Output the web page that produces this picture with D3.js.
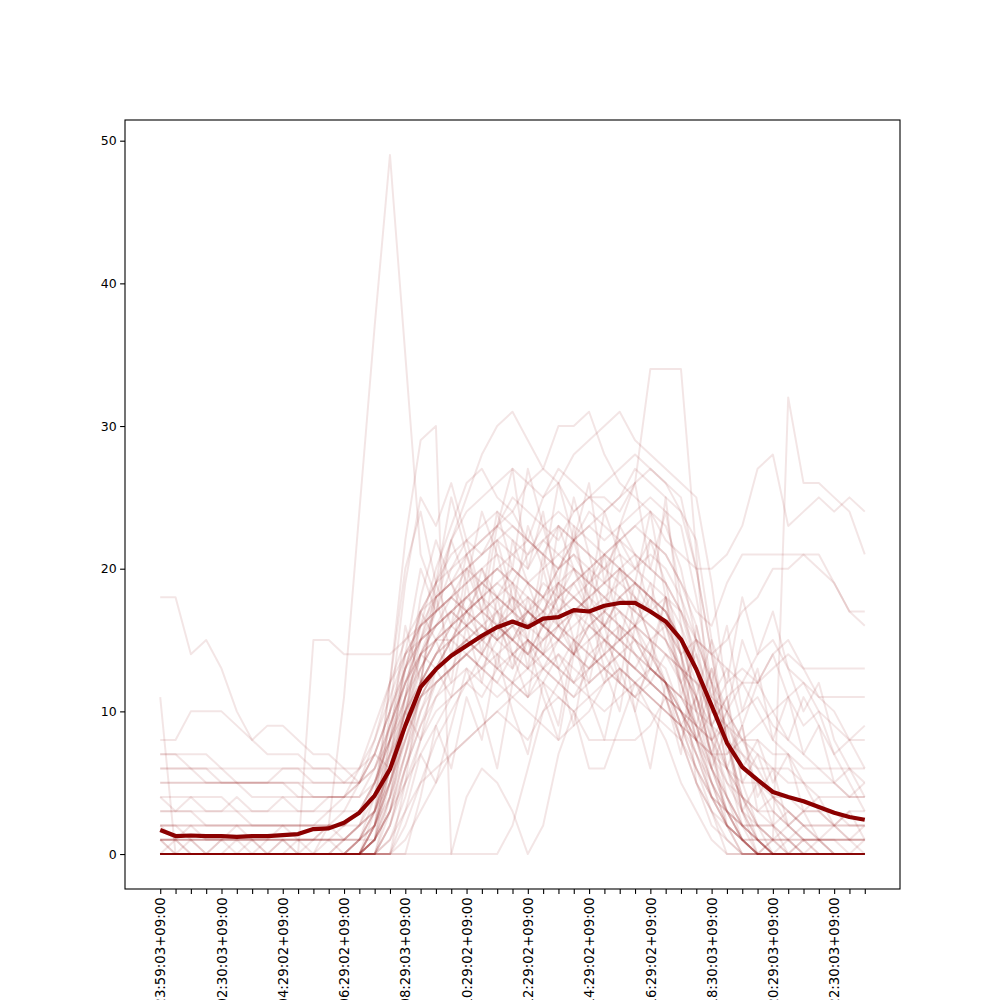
<!DOCTYPE html>
<html><head><meta charset="utf-8">
<script src="https://cdn.jsdelivr.net/npm/d3@7"></script>
<style>body{margin:0;background:#fff}svg{display:block}</style>
</head><body>
<div id="chart"></div>
<script>
// tick labels (every 4th category)
const tickIndex = [0,4,8,12,16,20,24,28,32,36,40,44];
const tickLabels = [
  "2021-03-15 23:59:03+09:00","2021-03-16 02:30:03+09:00","2021-03-16 04:29:02+09:00",
  "2021-03-16 06:29:02+09:00","2021-03-16 08:29:03+09:00","2021-03-16 10:29:02+09:00",
  "2021-03-16 12:29:02+09:00","2021-03-16 14:29:02+09:00","2021-03-16 16:29:02+09:00",
  "2021-03-16 18:30:03+09:00","2021-03-16 20:29:03+09:00","2021-03-16 22:30:03+09:00"];
const nPoints = 47;
const yTicks = [0,10,20,30,40,50];

// mean series
const meanValues = [1.68,1.26,1.3,1.26,1.26,1.2,1.25,1.26,1.33,1.4, 1.75,1.8,2.2,2.9,4.1,5.95,9.0,11.7,12.95,13.9, 14.6,15.3,15.9,16.3,15.9,16.5,16.6,17.1,17.0,17.4, 17.6,17.6,17.0,16.3,15.05,12.95,10.4,7.8,6.1,5.2, 4.35,4.0,3.7,3.3,2.9,2.6,2.4];

// individual series
const s01=[18,18,14,15,13,10,8,9,9,8, 7,7,6,6,7,10,14,16,17,18, 19,20,18,17,19,20,21,22,21,20, 19,18,17,16,12,8,4,2,1,0, 0,0,0,0,0,0,0];
const s02=[0,0,0,0,0,0,0,0,0,0, 0,2,11,24,37,49,35,21,18,19, 17,15,16,14,13,15,16,14,13,15, 16,14,12,11,8,5,2,1,0,0, 0,0,0,0,0,0,0];
const s03=[1,0,0,0,0,0,1,0,0,0, 0,0,0,0,1,4,9,14,17,20, 22,21,23,24,22,25,26,24,25,25, 24,26,34,34,34,21,8,2,1,0, 0,0,0,0,0,0,0];
const s04=[0,0,0,0,0,0,0,0,0,0, 0,0,0,0,0,2,6,10,12,13, 15,14,16,15,17,16,15,17,18,16, 17,15,13,12,9,6,3,1,0,0, 1,32,26,26,25,24,21];
const s05=[2,2,1,1,1,1,1,1,1,1, 1,2,3,5,8,12,15,17,18,19, 20,21,22,21,20,22,23,22,24,23, 22,23,24,22,21,20,20,21,23,27, 28,23,24,25,24,25,24];
const s06=[3,3,3,3,3,3,2,2,2,2, 2,3,4,6,9,12,14,16,17,18, 17,19,18,20,19,18,20,21,19,20, 21,20,22,21,19,17,16,19,21,21, 21,21,21,20,19,17,16];
const s07=[0,0,0,0,0,0,0,0,0,0, 1,1,2,3,5,8,11,13,15,16, 17,18,19,18,17,19,18,20,19,18, 17,16,17,18,17,15,14,15,17,18, 20,20,21,21,19,17,17];
const s08=[5,5,5,5,5,5,5,5,5,4, 4,4,4,5,7,10,13,15,16,17, 18,17,16,18,17,16,17,18,17,16, 15,16,15,16,14,15,14,13,12,12, 13,14,13,13,13,13,13];
const s09=[0,0,0,0,0,0,0,0,0,0, 0,0,0,1,3,7,11,14,16,17, 18,19,20,19,18,17,19,20,18,17, 16,15,14,13,10,8,10,12,13,12, 14,15,13,11,11,11,11];
const s10=[6,6,6,6,6,5,5,5,5,5, 5,5,5,6,8,11,14,15,16,17, 16,17,18,19,17,16,18,17,15,16, 15,16,14,12,10,9,8,10,12,14, 15,13,12,11,10,8,9];
const s11=[7,7,6,5,5,5,5,5,5,5, 4,4,4,4,6,9,12,14,15,16, 17,16,15,16,17,18,16,15,14,13, 14,13,12,11,10,8,7,7,8,9, 10,11,12,10,9,8,8];
const s12=[0,0,0,0,0,0,0,0,0,0, 0,0,0,0,2,5,9,13,15,16, 15,14,16,17,15,14,15,16,17,15, 14,13,12,14,13,12,10,9,8,8, 7,7,6,6,6,6,6];
const s13=[4,4,4,4,4,3,3,3,3,3, 3,3,3,3,5,8,12,15,17,18, 19,20,21,20,19,18,20,21,20,19, 18,17,16,15,13,11,9,8,7,6, 6,5,5,4,4,4,4];
const s14=[0,0,0,0,0,0,0,0,0,0, 0,0,1,2,4,9,13,16,18,19, 21,22,23,22,21,23,24,23,22,21, 20,19,18,17,14,10,7,5,4,3, 3,2,3,3,2,3,3];
const s15=[1,1,1,0,1,1,1,0,1,1, 1,1,1,2,3,6,10,13,15,15, 16,17,16,15,17,16,15,14,16,17, 16,15,14,12,9,6,4,3,2,2, 2,1,2,2,2,2,2];
const s16=[11,0,0,0,0,0,0,0,0,0, 0,0,0,1,3,5,8,11,13,14, 15,16,17,15,14,16,15,17,16,15, 14,13,12,11,8,5,3,2,1,1, 0,0,0,0,0,0,0];
const s17=[8,8,10,10,10,9,8,7,7,7, 6,6,6,5,7,10,13,15,16,18, 20,21,22,23,22,21,23,22,21,20, 22,21,20,19,17,13,9,6,4,2, 1,1,0,0,0,0,0];
const s18=[0,0,0,0,0,0,0,0,0,0, 15,15,14,14,14,14,15,16,17,18, 17,16,15,16,17,16,15,14,15,16, 15,14,13,12,10,7,4,2,1,0, 0,0,0,0,0,0,0];
const s19=[0,0,0,0,0,0,0,0,0,0, 0,0,0,1,4,12,22,29,30,0, 0,0,0,2,6,10,12,11,13,14, 12,11,13,12,10,8,5,3,1,0, 0,0,0,0,0,0,0];
const s20=[0,0,0,0,0,0,0,0,0,0, 0,0,0,0,1,3,7,12,18,22, 25,28,30,31,29,27,30,30,31,28, 26,25,24,23,20,15,9,4,1,0, 0,0,0,0,0,0,0];
const s21=[0,0,0,0,0,0,0,0,0,0, 0,0,0,0,2,6,11,16,20,23, 26,27,25,24,26,27,26,28,29,30, 31,29,28,27,26,25,19,11,5,2, 1,0,0,0,0,0,0];
const s22=[1,1,1,1,1,1,1,1,1,1, 1,1,1,1,2,4,8,12,14,16, 18,19,20,21,22,21,20,22,23,24, 25,26,27,26,24,20,14,8,4,1, 0,0,0,0,0,0,0];
const s23=[2,2,2,2,2,2,2,2,2,2, 2,2,2,3,4,7,10,12,13,15, 16,17,18,17,16,15,17,18,19,18, 17,16,18,17,15,12,8,5,3,2, 1,1,1,1,1,1,1];
const s24=[0,0,0,0,0,0,0,0,0,0, 0,0,0,0,0,2,5,8,10,11, 12,11,13,12,11,12,14,13,12,13, 14,15,13,12,11,9,6,3,1,0, 0,0,0,0,0,0,0];
const s25=[0,1,0,0,1,0,0,0,1,0, 0,0,1,2,5,9,12,14,13,15, 17,18,16,15,14,16,18,19,17,16, 18,19,17,16,14,10,6,3,1,0, 0,0,1,0,0,0,0];
const s26=[1,0,1,0,0,1,0,0,0,1, 0,1,0,1,3,6,9,11,12,13, 14,13,12,14,15,13,12,14,16,15, 14,13,15,14,12,8,5,2,0,0, 1,0,0,1,0,0,1];
const s27=[0,0,0,0,0,0,0,0,0,0, 0,0,0,0,1,3,5,7,9,11, 12,13,14,15,16,17,18,19,20,21, 22,23,22,21,19,16,12,8,4,2, 0,0,0,0,0,0,0];
const s28=[0,0,0,0,0,0,0,0,0,0, 0,0,0,0,0,0,1,3,5,7, 8,9,10,11,10,9,8,9,10,12, 13,12,11,10,9,8,6,4,2,1, 0,0,0,0,0,0,0];
const s29=[0,0,0,0,0,0,0,0,0,0, 0,0,0,0,0,0,0,0,0,0, 4,6,5,3,0,2,7,10,6,6, 9,12,10,8,5,3,1,0,0,0, 0,0,0,0,0,0,0];
const s30=[0,0,0,0,0,0,0,0,0,0, 0,0,0,0,0,1,3,5,6,7, 8,9,10,9,8,10,11,10,8,8, 8,8,9,11,10,7,4,2,0,0, 0,0,0,0,0,0,0];
const s31=[3,3,3,2,2,2,2,2,2,2, 2,2,2,3,5,8,11,14,15,17, 18,19,20,19,21,22,21,20,19,21, 22,20,19,18,16,13,9,6,3,1, 0,0,0,0,0,0,0];
const s32=[0,0,0,0,0,0,0,0,0,0, 0,0,0,0,3,8,13,17,19,20, 21,22,23,25,24,23,22,24,25,26, 27,28,27,26,25,20,14,8,3,1, 0,0,0,0,0,0,0];
const s33=[0,0,0,0,0,0,0,0,0,0, 0,0,0,0,1,5,10,14,16,17, 16,15,17,18,16,17,19,18,17,16, 18,19,18,17,15,11,7,4,2,1, 0,1,0,0,0,0,0];
const s34=[5,5,5,5,5,5,4,4,4,4, 4,4,4,4,5,7,9,11,13,14, 15,14,13,14,15,14,13,15,14,13, 12,11,12,11,10,9,8,9,10,11, 9,8,7,6,5,4,5];
const s35=[6,6,6,6,5,5,5,5,6,6, 6,6,5,5,6,8,10,12,14,15, 16,15,14,13,15,14,13,12,14,15, 13,12,11,10,9,8,7,6,5,5, 4,4,3,3,3,2,2];
const s36=[0,0,0,0,0,0,0,0,0,0, 0,0,0,0,2,6,10,15,19,22, 24,25,26,27,26,25,27,26,25,24, 25,27,26,25,24,22,15,8,3,0, 0,0,0,0,0,0,0];
const s37=[0,0,0,0,0,0,0,0,0,0, 0,0,0,0,0,1,4,8,11,13, 14,15,16,17,18,17,16,15,16,17, 18,17,16,15,13,12,11,10,8,6, 4,3,2,1,1,0,0];
const s38=[1,1,0,0,0,0,0,1,1,0, 0,0,0,0,1,4,7,10,13,15, 17,18,19,20,19,18,17,19,20,21, 20,19,18,16,13,9,5,2,1,0, 0,0,0,0,0,0,0];
const s39=[0,0,0,0,0,0,0,0,0,0, 0,0,0,1,2,5,9,12,14,16, 17,18,17,16,15,14,16,17,18,19, 20,21,20,19,17,14,11,9,7,5, 3,2,1,1,0,0,0];
const s40=[2,1,2,1,1,2,1,1,2,1, 1,2,1,2,3,6,9,12,14,15, 14,13,15,16,14,13,15,14,13,14, 15,14,13,12,11,9,6,4,2,1, 1,2,1,1,2,1,2];
const s41=[0,0,0,0,0,0,0,0,0,0, 0,0,0,0,0,0,2,5,8,10, 12,14,13,12,11,13,12,11,12,13, 12,11,10,9,8,6,4,3,2,2, 2,3,2,1,1,1,1];
const s42=[0,0,0,0,0,0,0,0,0,0, 0,0,0,0,2,7,13,17,19,21, 22,23,24,23,22,21,20,22,23,22, 23,24,25,24,23,18,12,6,2,0, 0,0,0,0,0,0,0];
const s43=[7,7,7,7,6,6,6,6,6,6, 5,5,5,5,6,9,12,15,18,19, 20,19,18,17,16,18,19,18,17,18, 19,20,21,20,18,15,12,10,8,7, 6,6,5,5,5,4,4];
const s44=[0,0,0,0,0,0,0,0,0,0, 0,0,0,0,1,3,7,11,13,14, 15,16,15,14,13,14,13,12,13,14, 15,16,15,14,13,11,8,6,4,3, 2,1,0,0,0,0,0];
const s45=[0,0,0,0,0,0,0,0,0,0, 0,0,0,0,0,2,6,9,12,13, 14,13,12,11,12,13,14,12,11,10, 11,12,13,12,11,10,9,11,12,10, 8,7,5,3,2,1,0];
const s46=[1,1,1,1,1,1,1,1,1,1, 1,1,1,1,2,5,8,11,12,13, 14,15,16,15,14,15,16,17,18,19, 20,19,18,17,15,11,7,3,1,1, 1,1,1,1,1,1,1];
const s47=[0,0,0,0,0,0,0,0,0,0, 0,0,0,0,1,3,6,9,11,12, 13,12,11,12,13,12,11,10,11,12, 13,12,11,10,9,7,5,3,2,1, 0,0,0,0,0,0,0];
const s48=[0,0,0,0,0,0,0,0,0,0, 0,0,0,0,0,3,9,17,15,12, 19,14,22,18,13,20,16,23,17,21, 15,19,24,18,12,14,9,11,6,8, 5,7,3,4,2,3,1];
const s49=[0,0,0,0,0,0,0,0,0,0, 0,0,0,0,0,0,5,12,19,25, 21,17,23,27,20,24,18,22,26,19, 23,21,17,25,16,10,13,7,9,4, 6,2,3,1,0,0,0];
const s50=[4,3,4,3,3,4,3,3,4,3, 3,4,4,5,7,6,10,8,13,11, 16,12,18,14,11,17,13,9,15,12, 16,10,14,18,11,15,12,16,10,13, 8,11,7,9,5,6,4];
const s51=[0,0,0,0,0,0,0,0,0,0, 0,0,0,0,2,10,19,25,23,26, 22,18,24,20,27,23,19,25,21,17, 23,26,20,24,18,13,6,9,3,5, 2,0,1,0,0,0,0];
const s52=[0,0,0,0,0,0,0,0,0,0, 0,0,0,0,0,0,0,4,9,6, 11,8,14,10,7,12,9,15,11,8, 13,10,6,12,8,11,15,12,18,14, 17,13,10,12,8,6,5];
const s53=[1,1,1,1,1,1,1,1,1,1, 1,1,1,1,1,6,14,20,17,22, 19,24,21,17,23,20,26,22,18,24, 21,17,22,19,14,8,12,6,9,3, 4,2,1,1,1,1,1];
const s54=[0,0,0,0,0,0,0,0,0,0, 0,0,0,0,1,8,16,12,18,14, 20,17,13,19,15,21,17,14,20,16, 12,18,15,11,7,16,11,13,9,12, 10,8,11,9,7,8,6];
const s55=[0,0,0,0,0,0,0,0,0,0, 0,0,0,0,0,0,3,7,5,9, 13,10,6,12,15,11,8,14,17,13, 10,16,19,15,12,9,13,10,15,12, 14,11,9,10,7,5,3];
const s56=[2,2,2,2,2,2,2,2,2,2, 2,2,2,2,3,12,20,24,19,16, 21,18,15,22,19,16,23,20,17,14, 20,18,15,12,9,11,7,10,5,7, 4,3,2,2,2,2,2];
const s57=[0,0,0,0,0,0,0,0,0,0, 0,0,0,0,0,4,11,18,22,19, 16,20,17,13,18,14,19,15,12,17, 20,16,13,18,14,5,3,0,0,0, 0,0,0,0,0,0,0];

const seriesList=[s01,s02,s03,s04,s05,s06,s07,s08,s09,s10,s11,s12,s13,s14,s15,s16,s17,s18,s19,s20,
 s21,s22,s23,s24,s25,s26,s27,s28,s29,s30,s31,s32,s33,s34,s35,s36,s37,s38,s39,s40,s41,s42,s43,s44,s45,s46,s47,
 s48,s49,s50,s51,s52,s53,s54,s55,s56,s57];

const W=1000,H=1000;
const mLeft=125,mRight=900,mTop=120,mBottom=889;
const fontFam="'DejaVu Sans', sans-serif";
const svg=d3.select("#chart").append("svg").attr("width",W).attr("height",H)
  .style("font-family",fontFam);

const x=d3.scaleLinear().domain([-2.3,(nPoints-1)+2.3]).range([mLeft,mRight]);
const y=d3.scaleLinear().domain([-2.45,51.45]).range([mBottom,mTop]);

svg.append("defs").append("clipPath").attr("id","clip")
  .append("rect").attr("x",mLeft).attr("y",mTop).attr("width",mRight-mLeft).attr("height",mBottom-mTop);

const line=d3.line().x((d,i)=>x(i)).y(d=>y(d));
const g=svg.append("g").attr("clip-path","url(#clip)");
g.selectAll("path.s").data(seriesList).join("path").attr("class","s")
  .attr("d",line).attr("fill","none").attr("stroke","#8b0000")
  .attr("stroke-opacity",0.1).attr("stroke-width",2).attr("stroke-linejoin","round");
g.append("path").datum(meanValues).attr("d",line).attr("fill","none")
  .attr("stroke","#8b0000").attr("stroke-width",4.2).attr("stroke-linejoin","round");

// frame
svg.append("rect").attr("x",mLeft).attr("y",mTop).attr("width",mRight-mLeft).attr("height",mBottom-mTop)
  .attr("fill","none").attr("stroke","#000").attr("stroke-width",1.1);

// y axis
const yAxis=d3.axisLeft(y).tickValues(yTicks).tickSize(4.9).tickPadding(3.5).tickFormat(d3.format("d"));
const ya=svg.append("g").attr("transform",`translate(${mLeft},0)`).call(yAxis);
ya.select(".domain").remove();
ya.selectAll("text").attr("font-size",12.5).attr("fill","#000").style("font-family",fontFam);
ya.selectAll("line").attr("stroke","#000").attr("stroke-width",1.1);

// x axis
const xAxis=d3.axisBottom(x).tickValues(d3.range(nPoints)).tickSize(4.9).tickPadding(3.5)
  .tickFormat(i=>{const k=tickIndex.indexOf(i);return k>=0?tickLabels[k]:"";});
const xa=svg.append("g").attr("transform",`translate(0,${mBottom})`).call(xAxis);
xa.select(".domain").remove();
xa.selectAll("line").attr("stroke","#000").attr("stroke-width",1.1);
xa.selectAll("text").attr("font-size",13.3).attr("fill","#000")
  .style("font-family",fontFam)
  .attr("transform","rotate(-90)").attr("text-anchor","end")
  .attr("x",-8.4).attr("y",0).attr("dy","0.35em");
</script>
</body></html>
